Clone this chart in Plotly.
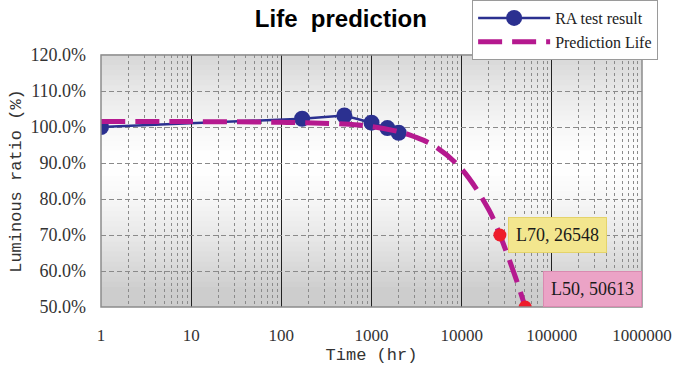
import plotly.graph_objects as go

# ---- data ----
ra_time = [1, 170, 500, 1000, 1500, 2000]
ra_ratio = [100.0, 102.3, 103.2, 101.2, 99.7, 98.4]

pred_time = [1, 10, 100, 500, 1000, 2000, 3000, 5000, 10000, 20000, 26548, 40000, 50613]
pred_ratio = [101.5, 101.5, 101.3, 100.8, 100.1, 98.7, 97.3, 94.7, 88.3, 77.0, 70.0, 57.9, 50.0]

life_time = [26548, 50613]
life_ratio = [70.0, 50.0]
life_labels = ["L70, 26548", "L50, 50613"]

x_ticks = [1, 10, 100, 1000, 10000, 100000, 1000000]
y_ticks = [50, 60, 70, 80, 90, 100, 110, 120]

serif = "Liberation Serif, Times New Roman, serif"
mono = "Liberation Mono, Courier New, monospace"

fig = go.Figure()

fig.add_trace(go.Scatter(
    x=ra_time, y=ra_ratio, mode="lines+markers", name="RA test result",
    line=dict(color="#2B3090", width=2.5),
    marker=dict(color="#2B3090", size=16),
))
fig.add_trace(go.Scatter(
    x=pred_time, y=pred_ratio, mode="lines", name="Prediction Life",
    line=dict(color="#B5198F", width=5, dash="24px,10px", shape="spline"),
))
fig.add_trace(go.Scatter(
    x=life_time, y=life_ratio, mode="markers", showlegend=False,
    marker=dict(color="#EE1C2A", size=13),
))

# gradient background bands
n = 50
shapes = []
for i in range(n):
    t = (i + 0.5) / n  # 0 bottom -> 1 top
    d = abs(t - 0.57) / 0.5
    v = int(round(255 - 50 * min(d, 1.0) ** 1.4))
    col = f"rgb({v},{v},{v})"
    shapes.append(dict(type="rect", xref="x domain", yref="y domain",
                       x0=0, x1=1, y0=i / n, y1=(i + 1) / n + 0.003,
                       fillcolor=col, line=dict(width=0), layer="below"))
shapes.append(dict(type="rect", xref="x domain", yref="y domain",
                   x0=0, x1=1, y0=0, y1=1, line=dict(color="#8C8C8C", width=1.5),
                   fillcolor="rgba(0,0,0,0)", layer="above"))

annotations = []
ann_styles = [dict(bg="#F3E68E", bc="#E4D36A", xs=4.51, yv=70.0),
              dict(bg="#EBA3C6", bc="#D98AB0", xs=4.90, yv=55.0)]
for lbl, st in zip(life_labels, ann_styles):
    annotations.append(dict(
        x=st["xs"], y=st["yv"], xref="x", yref="y", text=lbl, showarrow=False,
        xanchor="left", yanchor="middle",
        font=dict(family=serif, size=18, color="#1A1A1A"),
        bgcolor=st["bg"], bordercolor=st["bc"], borderwidth=1, borderpad=7,
    ))

fig.update_layout(
    width=675, height=370,
    margin=dict(l=101, r=33, t=55, b=63, autoexpand=False),
    paper_bgcolor="white", plot_bgcolor="white",
    title=dict(text="<b>Life  prediction</b>", x=0.505, xanchor="center", y=0.95, yanchor="middle",
               font=dict(family="Liberation Sans, Arial, sans-serif", size=24, color="black")),
    showlegend=True,
    legend=dict(x=0.686, y=1.218, xanchor="left", yanchor="top",
                bgcolor="white", bordercolor="#9A9A9A", borderwidth=1,
                font=dict(family=serif, size=16, color="#222"),
                itemwidth=72, tracegroupgap=0),
    shapes=shapes,
    annotations=annotations,
    xaxis=dict(
        type="log", range=[0, 6], automargin=False,
        tickvals=x_ticks, ticktext=[str(v) for v in x_ticks],
        tickfont=dict(family=serif, size=17, color="#333"),
        showgrid=True, gridcolor="#222", gridwidth=1,
        minor=dict(showgrid=True, gridcolor="#8A8A8A", griddash="3px,3px", gridwidth=1,
                   dtick="D1"),
        zeroline=False, showline=False, ticks="", ticklabelstandoff=16,
        title=dict(text="Time (hr)", font=dict(family=mono, size=17, color="#333"),
                   standoff=4),
    ),
    yaxis=dict(
        range=[50, 120], tickvals=y_ticks, automargin=False,
        ticktext=[f"{v:.1f}%" for v in y_ticks],
        tickfont=dict(family=serif, size=18, color="#333"),
        showgrid=True, gridcolor="#8A8A8A", griddash="5px,3px", gridwidth=1,
        zeroline=False, showline=False, ticks="", ticklabelstandoff=14,
        title=dict(text="Luminous ratio (%)", font=dict(family=mono, size=17, color="#333"),
                   standoff=4),
    ),
)

fig.write_html("out.html", config={"displayModeBar": False},
               post_script="document.body.style.margin='0';")
